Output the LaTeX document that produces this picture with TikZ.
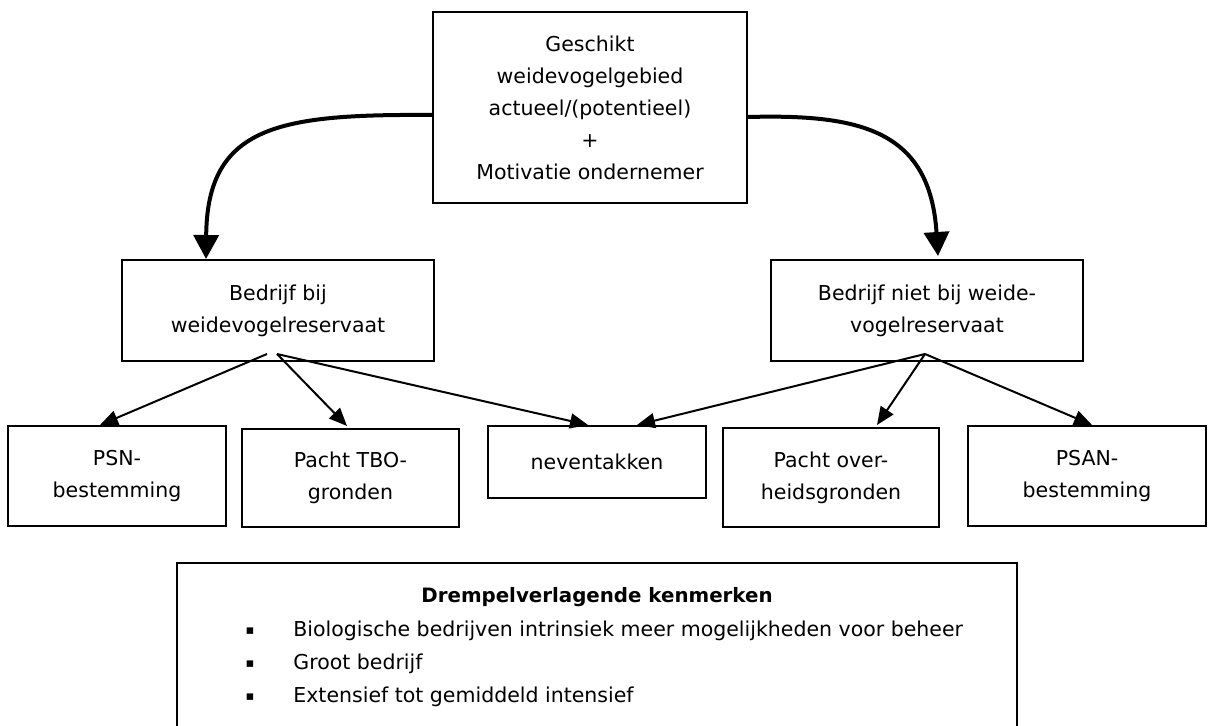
\documentclass[tikz,border=0pt]{standalone}
\usepackage{fontspec}
\setmainfont{DejaVu Sans}
\usetikzlibrary{arrows.meta,calc}
\begin{document}
\begin{tikzpicture}[x=0.5pt,y=-0.5pt,
  box/.style={draw, line width=1pt, align=center, inner sep=0pt, font=\fontsize{10.25}{16}\selectfont},
  txt/.style={inner sep=0pt, font=\fontsize{10.25}{16}\selectfont},
  bul/.style={inner sep=0pt, font=\fontsize{6.5}{8}\selectfont},
  thinarrow/.style={line width=1pt, -{Triangle[length=9pt,width=7.5pt]}},
  thickarrow/.style={line width=2pt, -{Triangle[length=12pt,width=12.5pt]}}]
\useasboundingbox (0,0) rectangle (1208,726);
% boxes
\node[box, minimum width=157pt, minimum height=95.5pt] (top) at (590,107.5)
  {Geschikt\\weidevogelgebied\\actueel/(potentieel)\\+\\Motivatie ondernemer};
\node[box, minimum width=156pt, minimum height=50.5pt] (lm) at (278,310.5)
  {Bedrijf bij\\weidevogelreservaat};
\node[box, minimum width=156pt, minimum height=50.5pt] (rm) at (927,310.5)
  {Bedrijf niet bij weide-\\vogelreservaat};
\node[box, minimum width=109pt, minimum height=50pt] (psn) at (117,476)
  {PSN-\\bestemming};
\node[box, minimum width=108.5pt, minimum height=49pt] (tbo) at (350.5,478)
  {Pacht TBO-\\gronden};
\node[box, minimum width=109pt, minimum height=36pt] (nev) at (597,462)
  {neventakken};
\node[box, minimum width=108pt, minimum height=49.5pt] (over) at (831,477.5)
  {Pacht over-\\heidsgronden};
\node[box, minimum width=119pt, minimum height=50pt] (psan) at (1087,476)
  {PSAN-\\bestemming};
\node[draw, line width=1pt, minimum width=420pt, minimum height=86pt, inner sep=0pt] (kb) at (597,649) {};
% bottom texts
\node[txt, anchor=base, font=\fontsize{9.9}{16}\selectfont\bfseries] (hd) at (597,602) {Drempelverlagende kenmerken};
\node[bul, anchor=base] (b1) at (250,634) {▪};
\node[bul, anchor=base] (b2) at (250,667) {▪};
\node[bul, anchor=base] (b3) at (250,700) {▪};
\node[txt, anchor=base west] (i1) at (293,636) {Biologische bedrijven intrinsiek meer mogelijkheden voor beheer};
\node[txt, anchor=base west] (i2) at (293,669) {Groot bedrijf};
\node[txt, anchor=base west] (i3) at (293,702) {Extensief tot gemiddeld intensief};
% curved arrows
\coordinate (tl) at ($(top.north west)+(0,104)$);
\coordinate (tr) at ($(top.north east)+(0,106)$);
\draw[thickarrow] (tl) .. controls (280,114) and (207,125) .. ($(lm.north west)+(85,0)$);
\draw[thickarrow] (tr) .. controls (860,114) and (930,130) .. ($(rm.north west)+(168,-3)$);
% straight arrows
\coordinate (ls1) at (267,354);
\coordinate (ls2) at (277,354);
\coordinate (rs) at (925,354);
\draw[thinarrow] (ls1) -- ($(psn.north west)+(93,0)$);
\draw[thinarrow] (ls2) -- ($(tbo.north west)+(106,-2)$);
\draw[thinarrow] (ls2) -- ($(nev.north west)+(101,0)$);
\draw[thinarrow] (rs) -- ($(nev.north west)+(150,0)$);
\draw[thinarrow] (rs) -- ($(over.north west)+(155,-2)$);
\draw[thinarrow] (rs) -- ($(psan.north west)+(125,0)$);
\end{tikzpicture}
\end{document}
